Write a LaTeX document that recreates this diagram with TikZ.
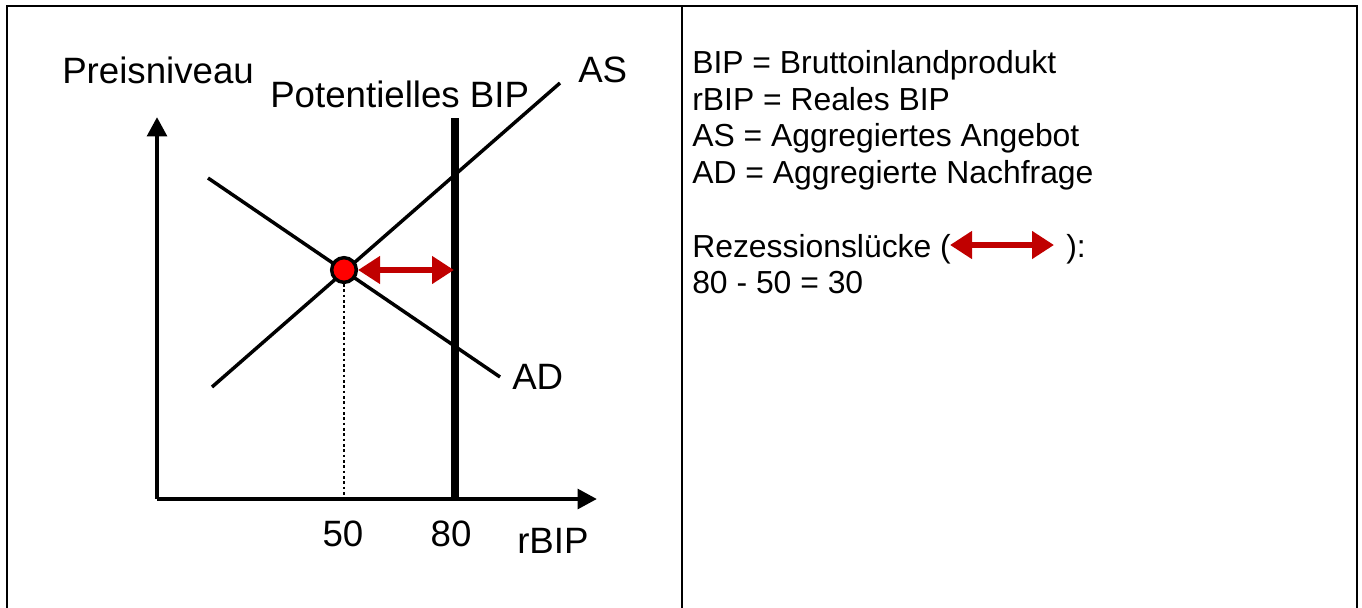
\documentclass[tikz,border=0pt]{standalone}
\usepackage{fontspec}
\setmainfont{Liberation Sans}
\usetikzlibrary{arrows.meta}
\definecolor{gapred}{HTML}{C00000}
\tikzset{
  frame/.style={line width=2pt,black},
  axis/.style={line width=3.4pt,-{Triangle[length=14.5pt,width=14.5pt]}},
  curve/.style={line width=2.6pt},
  potline/.style={line width=5.5pt},
  gap/.style={gapred,line width=4.8pt,{Triangle[length=16.5pt,width=20pt]}-{Triangle[length=16.5pt,width=20pt]},shorten <=0pt,shorten >=0pt},
  lbl/.style={inner sep=0pt,anchor=base west,font=\fontsize{27.5pt}{32pt}\selectfont},
  lblc/.style={inner sep=0pt,anchor=base,font=\fontsize{27.5pt}{32pt}\selectfont},
  legend/.style={inner sep=0pt,anchor=base west,font=\fontsize{23.9pt}{28pt}\selectfont},
}
\begin{document}
\begin{tikzpicture}[x=0.75pt,y=-0.75pt]
\useasboundingbox (0,0) rectangle (1362,607);
% frame
\coordinate (tl) at (7,6);
\coordinate (tr) at (1357,6);
\coordinate (tm) at (682,6);
\coordinate (bl) at (7,608);
\coordinate (br) at (1357,608);
\coordinate (bm) at (682,608);
\draw[frame] (bl) -- (tl) -- (tr) -- (br);
\draw[frame] (tm) -- (bm);
% axes
\coordinate (o) at (157,499);
\coordinate (ytop) at (157,117);
\coordinate (xend) at (597,499);
\draw[axis] (o) -- (ytop);
\draw[axis] (o) -- (xend);
% curves
\coordinate (ad1) at (208,178);
\coordinate (ad2) at (500,377);
\coordinate (as1) at (212,387);
\coordinate (as2) at (560,83);
\draw[curve] (ad1) -- (ad2);
\draw[curve] (as1) -- (as2);
% potential BIP
\coordinate (p1) at (455,118);
\coordinate (p2) at (455,497);
\draw[potline] (p1) -- (p2);
% equilibrium
\node[circle,draw=black,line width=2.6pt,fill=red,minimum size=18.5pt,inner sep=0pt] (eq) at (344,270) {};
\coordinate (eqx) at (344,499);
\draw[line width=1.8pt,dash pattern=on 2pt off 2pt] (eq.south) -- (eqx);
\coordinate (gapend) at (454,270);
\draw[gap] (eq.east) -- (gapend);
% labels
\node[lbl] (pn) at (62,83) {Preisniveau};
\node[lbl] (pb) at (270,107) {Potentielles BIP};
\node[lbl] (asl) at (578,82) {AS};
\node[lbl] (adl) at (512,389) {AD};
\node[lblc] (n50) at (343,546) {50};
\node[lblc] (n80) at (451,546) {80};
\node[lbl] (rb) at (517,553) {rBIP};
% legend
\node[legend] (l1) at (692,73) {BIP = Bruttoinlandprodukt};
\node[legend] (l2) at (692,110) {rBIP = Reales BIP};
\node[legend] (l3) at (692,146) {AS = Aggregiertes Angebot};
\node[legend] (l4) at (692,183) {AD = Aggregierte Nachfrage};
\node[legend] (l5) at (692,257) {Rezessionslücke (};
\node[legend] (l5b) at (1066,257) {):};
\node[legend] (l6) at (692,293) {80 - 50 = 30};
\coordinate (la) at (950,245);
\coordinate (lb) at (1054,245);
\draw[gap] (la) -- (lb);
\end{tikzpicture}
\end{document}
